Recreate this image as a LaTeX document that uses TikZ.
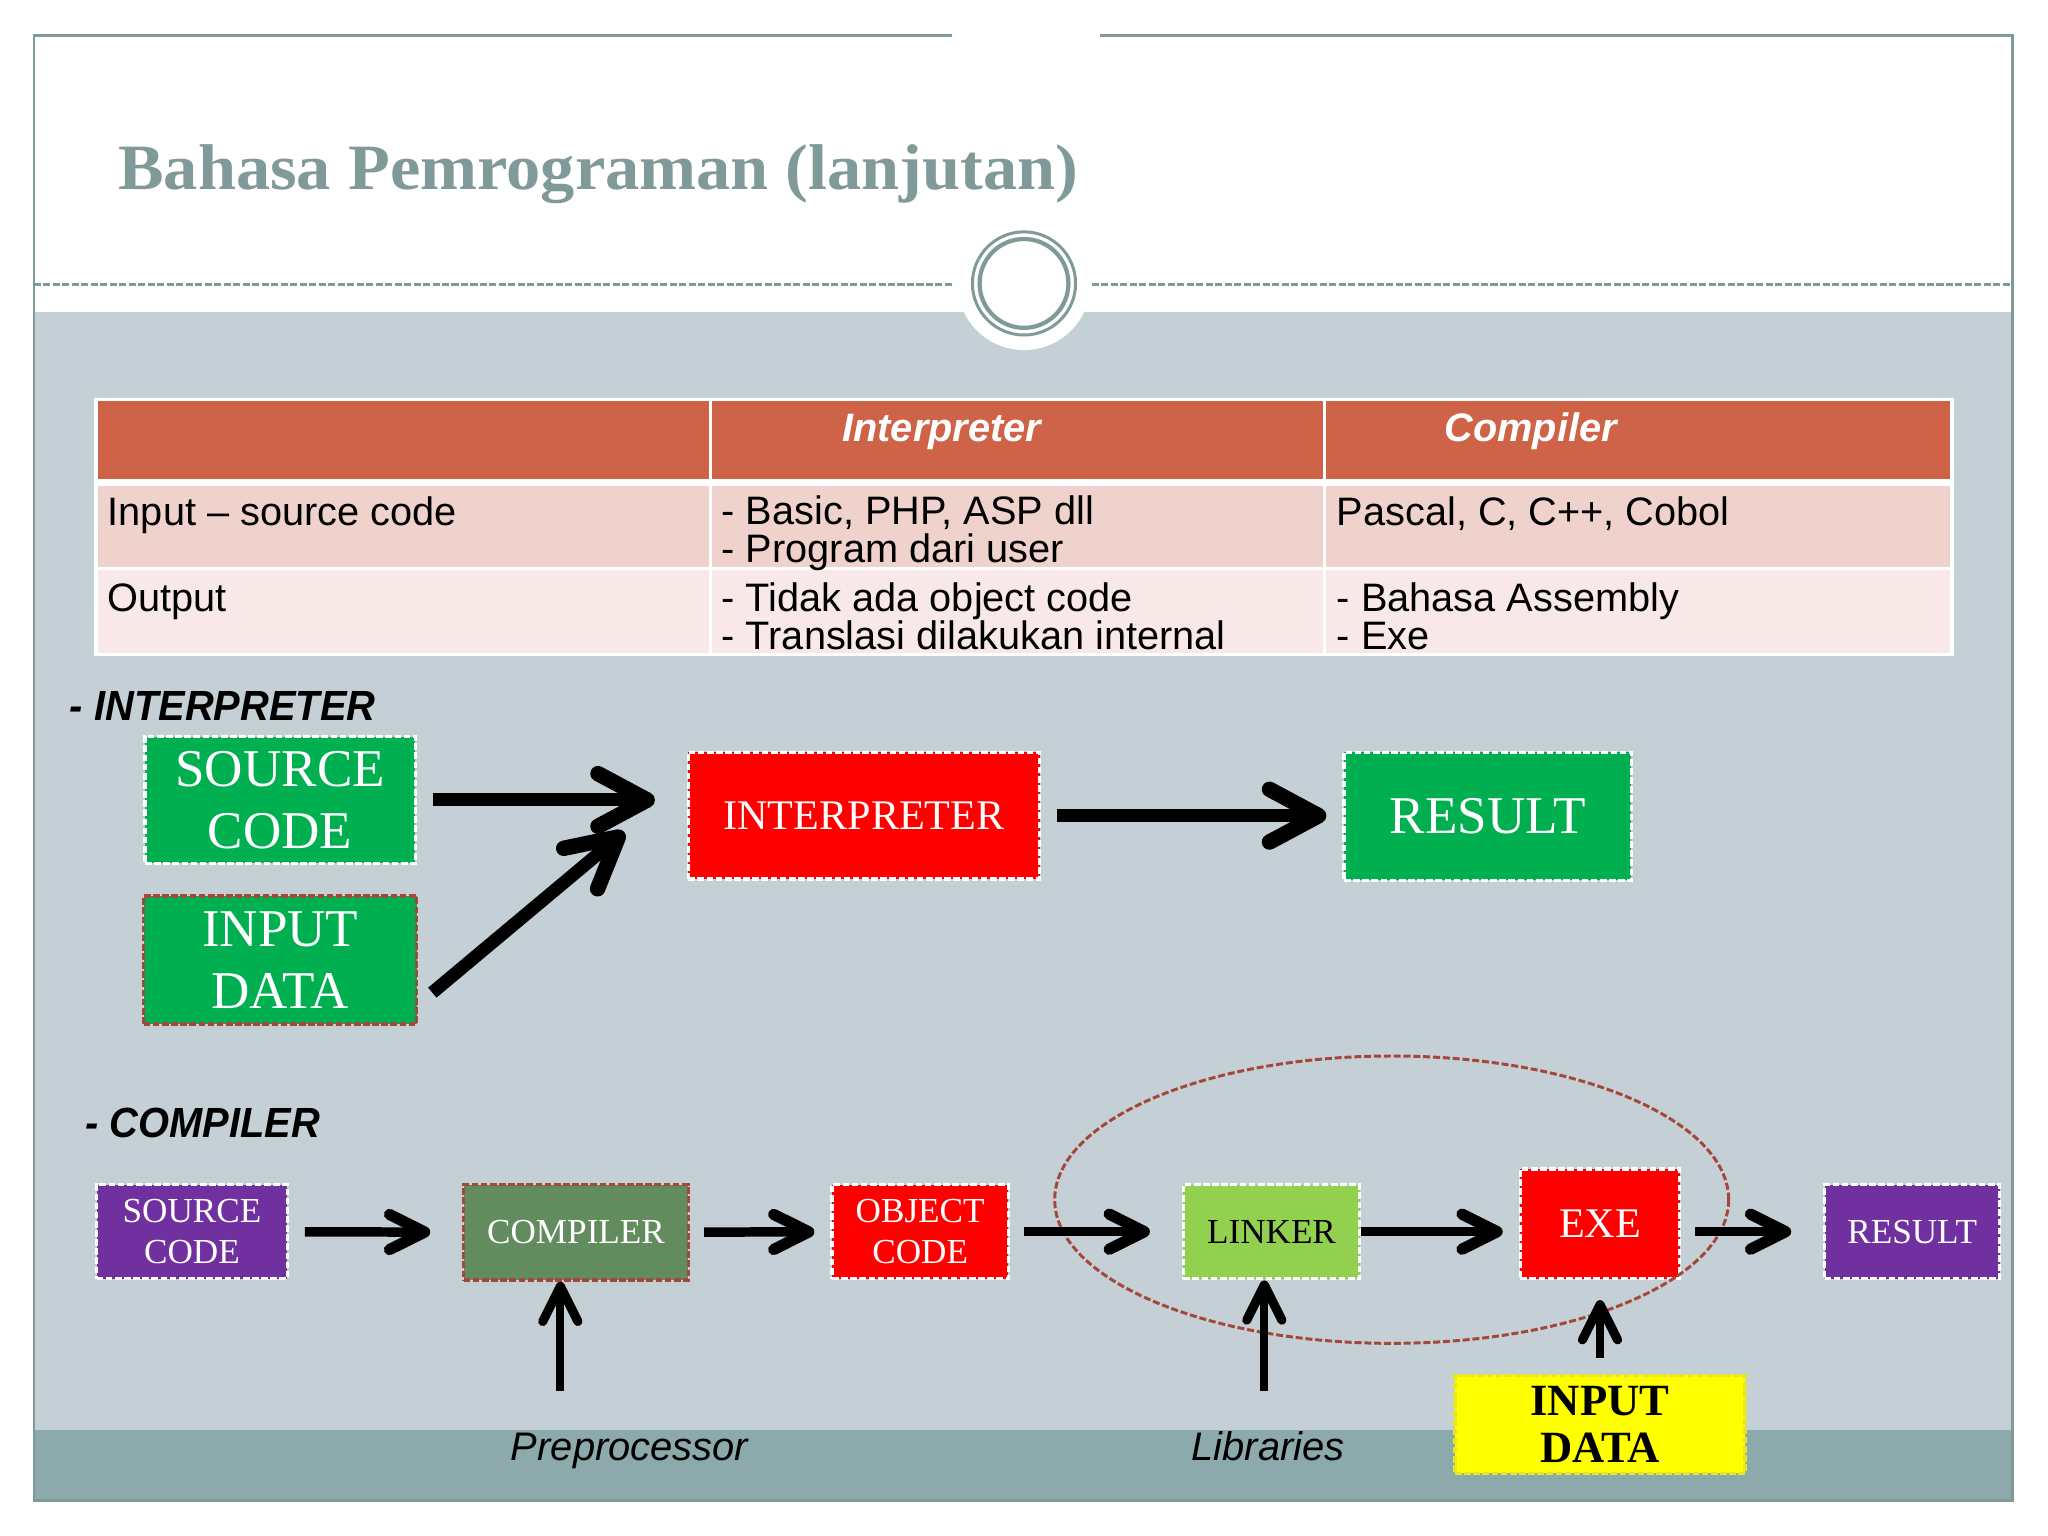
\documentclass[tikz,border=0pt]{standalone}
\usepackage{fontspec}
\setmainfont{Liberation Sans}
\newfontfamily\serifbox{Liberation Serif}
\usetikzlibrary{arrows.meta}

% one unit of the picture
\def\u{0.13061mm}
\definecolor{frameC}{HTML}{7F9A98}
\definecolor{bodyC}{HTML}{C4D0D6}
\definecolor{footC}{HTML}{8CAAAB}
\definecolor{headC}{HTML}{CF6348}
\definecolor{rowA}{HTML}{F0D2CD}
\definecolor{rowB}{HTML}{F8E9E8}
\definecolor{greenC}{HTML}{00B050}
\definecolor{purpleC}{HTML}{7030A0}
\definecolor{olive}{HTML}{638C5E}
\definecolor{lime}{HTML}{92D050}
\definecolor{brick}{HTML}{A5483C}
\definecolor{redC}{HTML}{FF0000}
\definecolor{yellowC}{HTML}{FFFF00}
\definecolor{yellowD}{HTML}{E8E620}

\tikzset{
  box/.style 2 args={draw=white, line width=1pt, dash pattern=on 1.9pt off 0.7pt, inner sep=0pt,
    minimum width=#1*\u, minimum height=#2*\u, align=center, text=white},
  big/.style={font=\serifbox\fontsize{15.1}{17.5}\selectfont},
  mid/.style={font=\serifbox\fontsize{12}{14}\selectfont},
  small/.style={font=\serifbox\fontsize{10}{11.5}\selectfont},
  cell/.style={anchor=base west, inner sep=0pt, align=left, font=\fontsize{11.3}{10.8}\selectfont},
  head/.style={anchor=base, inner sep=0pt, text=white, font=\fontsize{11.3}{13}\selectfont\bfseries\itshape},
  tag/.style={anchor=base west, inner sep=0pt, font=\fontsize{12}{14}\selectfont\bfseries\itshape\addfontfeature{FakeStretch=0.945}},
  note/.style={anchor=base, inner sep=0pt, font=\fontsize{11.35}{13}\selectfont\itshape},
  fat/.style={line width=3.7pt, -{Straight Barb[length=14pt,width=15pt,round,line width=4.4pt]}},
  thick arrow/.style={line width=2.7pt, -{Straight Barb[length=10pt,width=10pt,round,line width=3.2pt]}},
  thin arrow/.style={line width=2.2pt, -{Straight Barb[length=10pt,width=10pt,round,line width=2.6pt]}},
}

\begin{document}
\begin{tikzpicture}[x=\u, y=-\u]
\useasboundingbox (0,0) rectangle (1568,1176);
\fill[white] (0,0) rectangle (1568,1176);

% slide
\fill[bodyC] (26,239) rectangle (1541,1095);
\fill[footC] (26,1095) rectangle (1541,1149);
\draw[frameC, line width=0.75pt] (26,27) rectangle (1541,1149);
\fill[white] (729,25) rectangle (842,30);
\draw[frameC, line width=0.8pt, dash pattern=on 2pt off 0.7pt] (26,218) -- (730,218);
\draw[frameC, line width=0.8pt, dash pattern=on 2pt off 0.7pt] (836,218) -- (1541,218);
\fill[white] (784,217) circle (51);
\draw[frameC, line width=0.85pt] (784,217) circle (39.5);
\draw[frameC, line width=1.2pt] (784,217) circle (34);

% title
\node(title) at (90,145) [anchor=base west, inner sep=0pt, text=frameC, font=\serifbox\fontsize{18.4}{22}\selectfont\bfseries\addfontfeature{FakeStretch=1.058}] {Bahasa Pemrograman (lanjutan)};

% table
\fill[headC] (73,306) rectangle (1495,367);
\fill[rowA] (73,372) rectangle (1495,435);
\fill[rowB] (73,435) rectangle (1495,501);
\draw[white, line width=0.9pt] (73.5,306) rectangle (1494.5,501);
\draw[white, line width=1.8pt] (73,369.5) -- (1495,369.5);
\draw[white, line width=0.9pt] (73,435) -- (1495,435);
\foreach \x in {544,1014} \draw[white, line width=0.9pt] (\x,306) -- (\x,501);
\node(hInt) at (721,338) [head] {Interpreter};
\node(hCom) at (1172,338) [head] {Compiler};
\node(cIn) at (82,402) [cell] {Input -- source code};
\node(cInA) at (552,431) [cell] {- Basic, PHP, ASP dll\\- Program dari user};
\node(cInB) at (1023,402) [cell] {Pascal, C, C++, Cobol};
\node(cOut) at (82,468) [cell] {Output};
\node(cOutA) at (552,497) [cell] {- Tidak ada object code\\- Translasi dilakukan internal};
\node(cOutB) at (1023,497) [cell] {- Bahasa Assembly\\- Exe};

% interpreter
\node(tagInt) at (53,552) [tag] {- INTERPRETER};
\node(srcA) at (214.5,612.5) [box={207}{97}, fill=greenC, big] {SOURCE\\CODE};
\node(inA) at (214.5,735) [box={209}{98}, fill=greenC, draw=brick, big] {INPUT\\DATA};
\node(interp) at (661.5,624.5) [box={269}{97}, fill=redC, mid] {INTERPRETER};
\node(resA) at (1139,625) [box={220}{98}, fill=greenC, big] {RESULT};
\coordinate(inTail) at (331,760);
\coordinate(inHead) at (478,637);
\draw[fat, shorten <=4.5pt, shorten >=9pt] (srcA.east) -- (srcA.east -| interp.west);
\draw[fat] (inTail) -- (inHead);
\draw[fat, shorten <=4.3pt, shorten >=4.5pt] (interp.east) -- (interp.east -| resA.west);

% compiler
\node(tagCom) at (65,871) [tag] {- COMPILER};
\node(srcB) at (147,943) [box={146}{72}, fill=purpleC, small] {SOURCE\\CODE};
\node(comp) at (441,943.5) [box={172}{73}, fill=olive, draw=brick, small] {COMPILER};
\node(obj) at (704.5,943) [box={135}{72}, fill=redC, small] {OBJECT\\CODE};
\node(link) at (973.5,943) [box={135}{72}, fill=lime, text=black, small] {LINKER};
\node(exe) at (1225,937) [box={122}{84}, fill=redC, mid] {EXE};
\node(resB) at (1464,943) [box={134}{72}, fill=purpleC, small] {RESULT};
\node(inB) at (1225,1090.5) [box={222}{75}, fill=yellowC, draw=yellowD, text=black, font=\serifbox\fontsize{12.7}{13.4}\selectfont\bfseries] {INPUT\\DATA};
\node(prep) at (482,1118) [note] {Preprocessor};
\node(lib) at (971,1118) [note] {Libraries};
\draw[brick, line width=0.85pt, dash pattern=on 2pt off 0.8pt] (1065.5,918.5) ellipse (258 and 110);
\coordinate(prepTail) at (429,1065);
\coordinate(libTail) at (968,1065);
\draw[thick arrow, shorten <=4.5pt, shorten >=9pt] (srcB) -- (comp);
\draw[thick arrow, shorten <=4pt, shorten >=4.5pt] (comp) -- (obj);
\draw[thick arrow, shorten <=4pt, shorten >=9pt] (obj) -- (link);
\draw[thick arrow, shorten >=4.5pt] (link.east) -- (link.east -| exe.west);
\draw[thick arrow, shorten <=4pt, shorten >=9pt] (exe.east |- resB) -- (resB);
\draw[thin arrow] (prepTail) -- (prepTail |- comp.south);
\draw[thin arrow] (libTail) -- (libTail |- link.south);
\draw[thin arrow, shorten <=4.5pt, shorten >=5.6pt] (inB) -- (exe);
\end{tikzpicture}
\end{document}
